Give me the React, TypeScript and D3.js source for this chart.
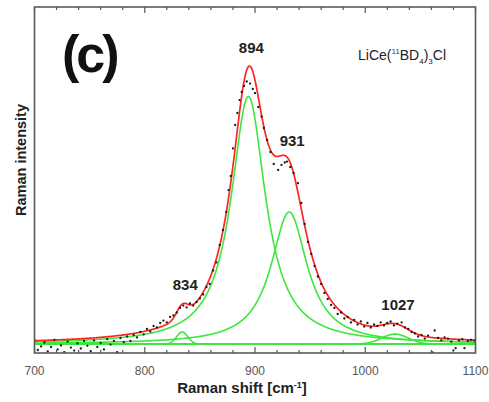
import React from "react";
import * as d3 from "d3";

const W = 489;
const H = 402;

// Fitted components (Raman shift centre, height above baseline, half-width, profile)
const peakCenters = [834, 894, 931, 1027];
const peakHeights = [0.04, 0.825, 0.44, 0.033];
const peakHalfWidths = [6, 19, 20, 14];
const peakShapes = ["gauss", "lorentz", "lorentz", "gauss"];
const peakLabels = ["834", "894", "931", "1027"];

// Measured points [Raman shift, intensity]
const dots: [number, number][] = [
  [700, 0.012], [703, -0.02], [706, -0.008], [709, 0.005], [712, -0.025], [715, -0.01],
  [718, 0.014], [721, -0.018], [724, -0.005], [727, -0.027], [730, 0.008], [733, -0.012],
  [736, -0.022], [739, 0.002], [742, -0.015], [745, 0.01], [748, -0.006], [751, -0.024],
  [754, 0.012], [757, -0.01], [760, 0.004], [763, -0.018], [766, 0.016], [769, -0.002],
  [772, 0.01], [775, -0.027], [778, 0.02], [781, 0.006], [784, 0.025], [787, 0.01],
  [790, 0.03], [793, 0.022], [796, 0.04], [799, 0.032], [802, 0.05], [805, 0.042],
  [808, 0.06], [811, 0.055], [814, 0.07], [817, 0.078], [820, 0.072], [823, 0.09],
  [826, 0.095], [829, 0.105], [832, 0.12], [835, 0.128], [838, 0.122], [841, 0.135],
  [844, 0.128], [847, 0.14], [850, 0.152], [853, 0.165], [856, 0.19], [859, 0.2],
  [862, 0.245], [865, 0.272], [868, 0.33], [871, 0.38], [874, 0.44], [876, 0.513],
  [878, 0.56], [880, 0.652], [882, 0.73], [884, 0.77], [886, 0.813], [888, 0.84],
  [890, 0.86], [892.5, 0.875], [895.5, 0.868], [898, 0.85], [900, 0.836], [903, 0.79],
  [906, 0.758], [908, 0.72], [911, 0.68], [914, 0.64], [917, 0.6], [921, 0.58],
  [924, 0.597], [927, 0.605], [929, 0.608], [932, 0.59], [935, 0.57], [939, 0.536],
  [942, 0.47], [945, 0.4], [948, 0.34], [951, 0.3], [954, 0.26], [957, 0.225],
  [960, 0.2], [963, 0.17], [966, 0.15], [969, 0.13], [972, 0.12], [975, 0.1],
  [978, 0.105], [981, 0.085], [984, 0.09], [987, 0.072], [990, 0.08], [993, 0.065],
  [996, 0.075], [999, 0.058], [1002, 0.07], [1005, 0.055], [1008, 0.065], [1011, 0.06],
  [1014, 0.072], [1017, 0.062], [1020, 0.07], [1023, 0.075], [1026, 0.062], [1029, 0.068],
  [1033, 0.072], [1036, 0.055], [1039, 0.05], [1042, 0.04], [1045, 0.035], [1048, 0.025],
  [1051, 0.03], [1054, 0.018], [1057, 0.028], [1061, -0.028], [1063, 0.045], [1066, 0.02],
  [1069, 0.012], [1072, 0.022], [1075, 0.018], [1078, 0.008], [1080, -0.021], [1082, -0.014],
  [1085, 0.012], [1088, 0.016], [1090, -0.014], [1093, 0.01], [1096, 0.014], [1099, 0.012],
];

const xDomain = [700, 1100];
const yDomain = [-0.03, 1.1233];
const xMajorTicks = [700, 800, 900, 1000, 1100];
const xMinorStep = 20;

const plot = { left: 34.5, right: 475.5, top: 7, bottom: 353 };
const FONT = "'Liberation Sans', Arial, Helvetica, sans-serif";
const RED = "#ff2424";
const GREEN = "#3ee63e";

function profile(i: number, x: number): number {
  const d = (x - peakCenters[i]) / peakHalfWidths[i];
  if (peakShapes[i] === "gauss") return peakHeights[i] * Math.exp(-Math.LN2 * d * d);
  return peakHeights[i] / (1 + d * d);
}
function total(x: number): number {
  let s = 0;
  for (let i = 0; i < peakCenters.length; i++) s += profile(i, x);
  return s;
}

export default function App() {
  const x = d3.scaleLinear().domain(xDomain).range([plot.left, plot.right]);
  const y = d3.scaleLinear().domain(yDomain).range([plot.bottom, plot.top]);
  const grid = d3.range(xDomain[0], xDomain[1] + 0.001, 0.5);
  const line = d3
    .line<[number, number]>()
    .x((d) => x(d[0]))
    .y((d) => y(d[1]))
    .curve(d3.curveLinear);

  const comps = peakCenters.map((_, i) => line(grid.map((g) => [g, profile(i, g)] as [number, number])) || "");
  const fit = line(grid.map((g) => [g, total(g)] as [number, number])) || "";
  const base = line([[xDomain[0], 0], [xDomain[1], 0]]) || "";
  const minor = d3.range(xDomain[0], xDomain[1] + 0.001, xMinorStep).filter((t) => !xMajorTicks.includes(t));

  return (
    <svg width={W} height={H} style={{ position: "absolute", left: 0, top: 0, background: "#fff" }}>
      <defs>
        <clipPath id="pc">
          <rect x={plot.left} y={plot.top} width={plot.right - plot.left} height={plot.bottom - plot.top} />
        </clipPath>
      </defs>
      <g clipPath="url(#pc)">
        <path d={base} fill="none" stroke={GREEN} strokeWidth={2.2} />
        {comps.map((d, i) => (
          <path key={i} d={d} fill="none" stroke={GREEN} strokeWidth={1.6} />
        ))}
        <path d={fit} fill="none" stroke={RED} strokeWidth={1.7} />
        {dots.map((d, i) => (
          <circle key={i} cx={x(d[0])} cy={y(d[1])} r={1.15} fill="#1a1a1a" />
        ))}
      </g>
      {xMajorTicks.map((t) => (
        <g key={"M" + t}>
          <line x1={x(t)} x2={x(t)} y1={plot.bottom} y2={plot.bottom - 6} stroke="#555" strokeWidth={1.2} />
          <line x1={x(t)} x2={x(t)} y1={plot.top} y2={plot.top + 6} stroke="#555" strokeWidth={1.2} />
        </g>
      ))}
      {minor.map((t) => (
        <g key={"m" + t}>
          <line x1={x(t)} x2={x(t)} y1={plot.bottom} y2={plot.bottom - 3} stroke="#555" strokeWidth={1.2} />
          <line x1={x(t)} x2={x(t)} y1={plot.top} y2={plot.top + 3} stroke="#555" strokeWidth={1.2} />
        </g>
      ))}
      <rect
        x={plot.left}
        y={plot.top}
        width={plot.right - plot.left}
        height={plot.bottom - plot.top}
        fill="none"
        stroke="#5a5a5a"
        strokeWidth={1.6}
      />
      {xMajorTicks.map((t) => (
        <text key={"l" + t} x={x(t)} y={374.5} textAnchor="middle" fontFamily={FONT} fontSize={12} fill="#555">
          {t}
        </text>
      ))}
      <text x={242} y={393} textAnchor="middle" fontFamily={FONT} fontSize={15} fontWeight="bold" fill="#222">
        Raman shift [cm
        <tspan dy={-5} fontSize={9}>-1</tspan>
        <tspan dy={5}>]</tspan>
      </text>
      <text
        transform={`translate(25.5,160) rotate(-90)`}
        textAnchor="middle"
        fontFamily={FONT}
        fontSize={14.5}
        fontWeight="bold"
        fill="#222"
      >
        Raman intensity
      </text>
      <text x={62} y={72} fontFamily={FONT} fontSize={52} fontWeight="bold" fill="#111" letterSpacing={-3}>
        (c)
      </text>
      {peakLabels.map((lab, i) => (
        <text
          key={lab}
          x={x(peakCenters[i]) + 3}
          y={y(total(peakCenters[i])) - 14}
          textAnchor="middle"
          fontFamily={FONT}
          fontSize={15}
          fontWeight="bold"
          fill="#222"
        >
          {lab}
        </text>
      ))}
      <text x={358} y={60} fontFamily={FONT} fontSize={14} fill="#222">
        LiCe(
        <tspan dy={-6} fontSize={8} fill="#1c3fb0">11</tspan>
        <tspan dy={6}>BD</tspan>
        <tspan dy={4} fontSize={8}>4</tspan>
        <tspan dy={-4}>)</tspan>
        <tspan dy={4} fontSize={8}>3</tspan>
        <tspan dy={-4}>Cl</tspan>
      </text>
    </svg>
  );
}
